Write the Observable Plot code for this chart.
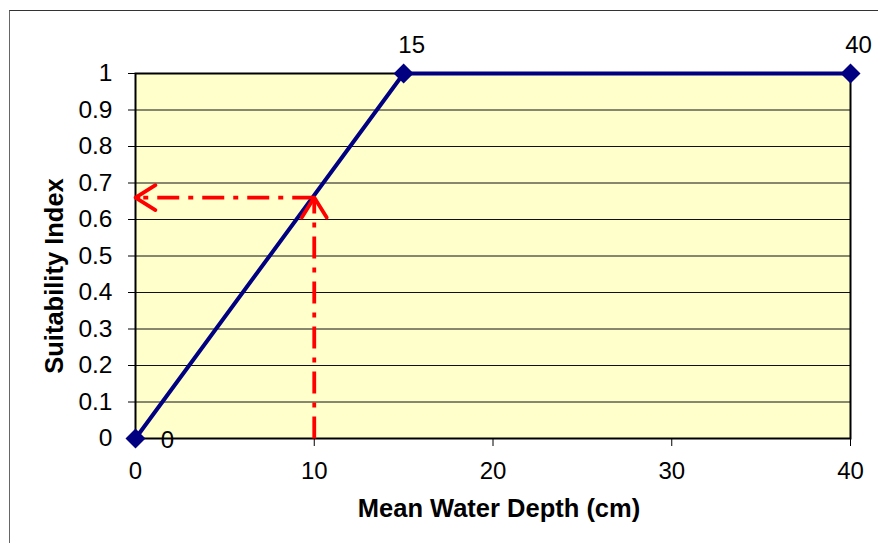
<!DOCTYPE html>
<html>
<head>
<meta charset="utf-8">
<script src="https://cdn.jsdelivr.net/npm/d3@7"></script>
<script src="https://cdn.jsdelivr.net/npm/@observablehq/plot@0.6"></script>
<style>
  html, body { margin: 0; padding: 0; background: #fff; overflow: hidden; }
  #wrap { position: relative; width: 878px; height: 543px; }
  #border { position: absolute; left: 9px; top: 10px; width: 1000px; height: 1000px;
            border-top: 1px solid #333; border-left: 1px solid #666; pointer-events: none; }
</style>
</head>
<body>
<div id="wrap"><div id="border"></div></div>
<script>
// Data
const depth = [0, 15, 40];
const suitability = [0, 1, 1];
const pointLabels = ["0", "15", "40"];
const xTicks = [0, 10, 20, 30, 40];
const yTicks = [0, 0.1, 0.2, 0.3, 0.4, 0.5, 0.6, 0.7, 0.8, 0.9, 1];
const readDepth = 10;
const readIndex = 0.66;
const xTitle = "Mean Water Depth (cm)";
const yTitle = "Suitability Index";

const points = depth.map((d, i) => ({x: d, y: suitability[i], label: pointLabels[i]}));
const guide = [{x: readDepth, y: readIndex}];
const font = "Liberation Sans, Arial, sans-serif";
const red = "#FF0000";
const navy = "#000080";

// layout
const W = 878, H = 543, mL = 135, mR = 28, mT = 73, mB = 105;
const xDomain = [0, 40], yDomain = [0, 1];
// pixel lengths of the guide lines (arrow shafts are inset so only the heads show)
const hShaft = (W - mL - mR) * (readDepth - xDomain[0]) / (xDomain[1] - xDomain[0]);
const vShaft = (H - mT - mB) * (readIndex - yDomain[0]) / (yDomain[1] - yDomain[0]);
const sw = 3.8;
const head = 23.5 * 1.5 / sw;

const chart = Plot.plot({
  width: W,
  height: H,
  marginLeft: mL,
  marginRight: mR,
  marginTop: mT,
  marginBottom: mB,
  style: {fontFamily: font, fontSize: "24px", color: "#000", background: "transparent", overflow: "visible"},
  x: {domain: xDomain},
  y: {domain: yDomain},
  marks: [
    Plot.frame({fill: "#FFFFCC"}),
    Plot.ruleY(yTicks.filter(v => v > 0 && v < 1), {stroke: "#111", strokeWidth: 1}),
    Plot.frame({stroke: "#000", strokeWidth: 2}),
    Plot.axisX({ticks: xTicks, tickSize: 8, tickPadding: 15, fontSize: 24, label: null, tickFormat: d => String(d)}),
    Plot.axisY({ticks: yTicks, tickSize: 7, tickPadding: 16, fontSize: 24.5, label: null, tickFormat: d => String(d)}),
    Plot.line(points, {x: "x", y: "y", stroke: navy, strokeWidth: 4}),
    // dashed guide lines
    Plot.link(guide, {x1: "x", y1: () => yDomain[0], x2: "x", y2: "y", stroke: red, strokeWidth: sw, strokeDasharray: "22,9,5,9"}),
    Plot.link(guide, {x1: "x", y1: "y", x2: () => xDomain[0], y2: "y", stroke: red, strokeWidth: sw, strokeDasharray: "22,9,5,9"}),
    // open arrowheads
    Plot.arrow(guide, {x1: "x", y1: () => yDomain[0], x2: "x", y2: "y", stroke: red, strokeWidth: sw,
      headLength: head, headAngle: 64, insetStart: vShaft - 3}),
    Plot.arrow(guide, {x1: "x", y1: "y", x2: () => xDomain[0], y2: "y", stroke: red, strokeWidth: sw,
      headLength: head, headAngle: 64, insetStart: hShaft - 3}),
    Plot.dot(points, {x: "x", y: "y", symbol: "diamond2", r: 9, fill: navy, stroke: "none"}),
    // data labels
    Plot.text(points.filter(d => d.x === 0), {x: "x", y: "y", text: "label", dx: 32, dy: 2, fontSize: 24, fill: "#000"}),
    Plot.text(points.filter(d => d.x !== 0), {x: "x", y: "y", text: "label", dx: 8, dy: -28, fontSize: 24, fill: "#000"}),
    // axis titles
    Plot.text([xTitle], {frameAnchor: "bottom", text: d => d, textAnchor: "middle", lineAnchor: "middle",
      dx: 6, dy: 70, fontSize: 25.5, fontWeight: "bold", fill: "#000"}),
    Plot.text([yTitle], {frameAnchor: "left", text: d => d, textAnchor: "middle", lineAnchor: "middle",
      dx: -81, dy: 20, rotate: -90, fontSize: 25.5, fontWeight: "bold", fill: "#000"})
  ]
});
document.getElementById("wrap").prepend(chart);
chart.style.position = "absolute";
chart.style.left = "0px";
chart.style.top = "0px";
</script>
</body>
</html>
